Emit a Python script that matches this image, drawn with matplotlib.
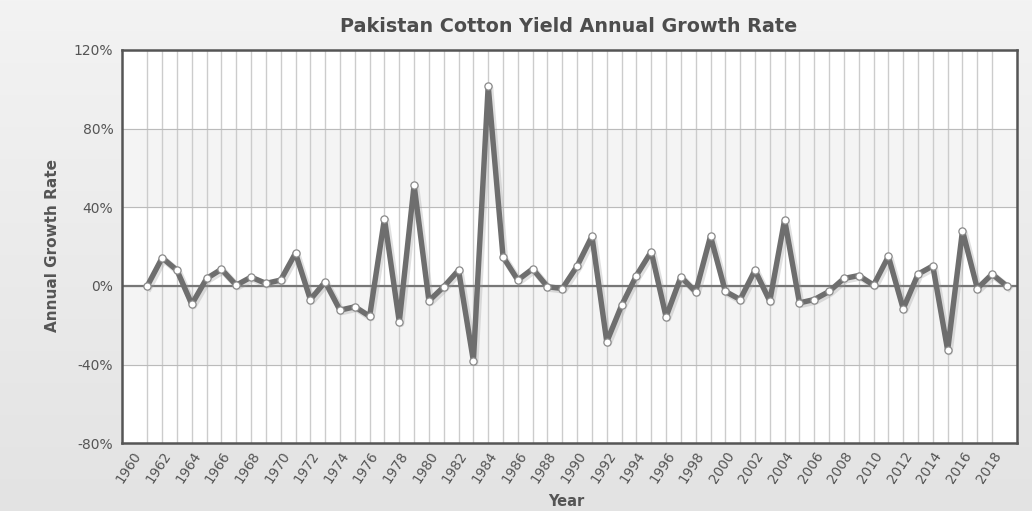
import numpy as np
import matplotlib
matplotlib.use("Agg")
import matplotlib.pyplot as plt
import matplotlib.transforms as mtransforms
from matplotlib.ticker import FuncFormatter

years = list(range(1961, 2020))
growth = [0.0, 14.3, 8.0, -9.3, 3.8, 8.5, 0.4, 4.5, 1.3, 3.0,
          16.7, -6.9, 2.1, -12.3, -10.6, -15.4, 34.2, -18.3, 51.3, -7.6,
          -0.4, 8.0, -38.1, 101.8, 14.8, 3.0, 8.7, -0.4, -1.3, 10.1,
          25.3, -28.4, -9.9, 5.3, 17.5, -15.7, 4.6, -3.0, 25.3, -2.8,
          -6.9, 8.0, -7.7, 33.7, -8.6, -6.9, -2.8, 3.8, 5.3, 0.4,
          15.0, -11.6, 6.0, 10.2, -32.7, 28.1, -1.3, 6.0, -0.1]
tick_years = list(range(1960, 2019, 2))
y_ticks = [-80, -40, 0, 40, 80, 120]

text_col = "#555555"

fig = plt.figure(figsize=(10.32, 5.11), dpi=100)

# light gray gradient background
bg = fig.add_axes([0, 0, 1, 1], zorder=-10)
grad = np.linspace(0, 1, 256).reshape(-1, 1)
bg.imshow(grad, aspect="auto", cmap=matplotlib.colors.LinearSegmentedColormap.from_list(
    "bg", ["#f3f3f3", "#e3e3e3"]), extent=[0, 1, 0, 1])
bg.axis("off")

ax = fig.add_axes([0.1179, 0.1325, 0.8673, 0.7697])
ax.set_facecolor("white")
ax.set_xlim(1959.27, 2019.66)
ax.set_ylim(-80, 120)

# alternating bands
ax.axhspan(40, 80, color="#f4f4f4", zorder=0)
ax.axhspan(-40, 0, color="#f4f4f4", zorder=0)

for yr in years[:-1]:
    ax.axvline(yr, color="#cccccc", lw=1.0, zorder=1)
for v in y_ticks:
    ax.axhline(v, color="#bbbbbb", lw=0.8, zorder=1)
ax.axhline(0, color="#777777", lw=1.6, zorder=2)

# soft shadow under the line
shadow = mtransforms.offset_copy(ax.transData, fig=fig, x=1.2, y=-1.2, units="points")
ax.plot(years, growth, color="#999999", lw=5, alpha=0.3, transform=shadow,
        solid_joinstyle="round", zorder=3)
ax.plot(years, growth, color="#6e6e6e", lw=3.9, solid_joinstyle="round", zorder=4)
ax.plot(years, growth, linestyle="none", marker="o", markersize=5.2,
        markerfacecolor="white", markeredgecolor="#8a8a8a", markeredgewidth=0.9, zorder=5)

ax.set_xticks(tick_years)
ax.set_xticklabels([str(y) for y in tick_years], rotation=57, ha="right",
                   rotation_mode="anchor", color=text_col, fontsize=9.8)
ax.set_yticks(y_ticks)
ax.yaxis.set_major_formatter(FuncFormatter(lambda v, p: f"{int(v)}%"))
ax.tick_params(axis="y", colors=text_col, labelsize=10, length=0, pad=6)
ax.tick_params(axis="x", length=0, pad=4)
for lab in ax.get_yticklabels():
    lab.set_color(text_col)

for s in ax.spines.values():
    s.set_color("#555555")
    s.set_linewidth(1.8)

fig.text(0.551, 0.948, "Pakistan Cotton Yield Annual Growth Rate", ha="center", va="center",
         fontsize=13.8, fontweight="bold", color="#4d4d4d")
fig.text(0.051, 0.52, "Annual Growth Rate", ha="center", va="center", rotation=90,
         fontsize=11, fontweight="bold", color="#555555")
fig.text(0.549, 0.004, "Year", ha="center", va="bottom",
         fontsize=10.5, fontweight="bold", color="#555555")

fig.savefig("out.png", dpi=100)
